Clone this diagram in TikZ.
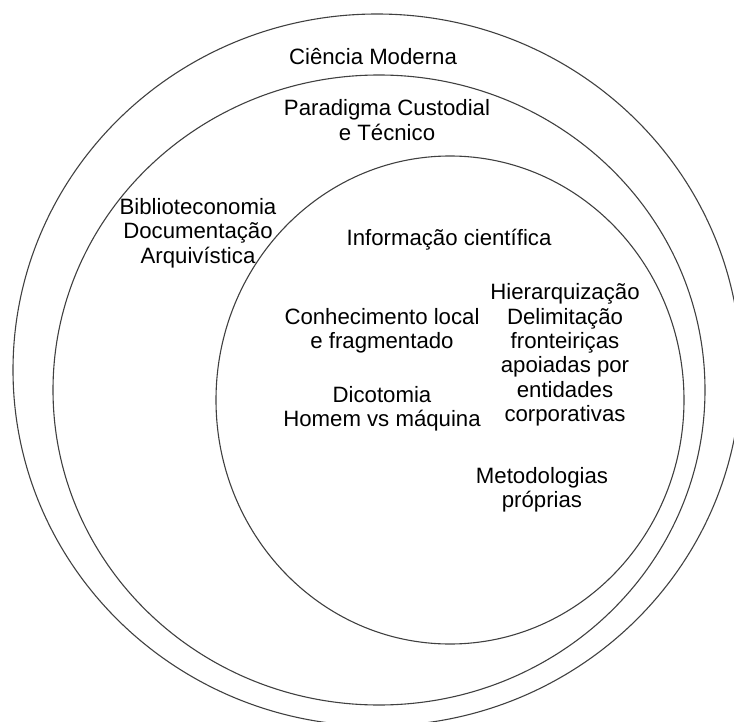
\documentclass[tikz,border=0pt]{standalone}
\usepackage{fontspec}
\setmainfont{Liberation Sans}
\usetikzlibrary{positioning}

\begin{document}
\begin{tikzpicture}[x=0.5pt, y=-0.5pt,
        every node/.style={align=center, inner sep=0pt,
          font=\fontsize{11.1}{12.2}\selectfont},
        ring/.style={draw=black!75, line width=0.55pt}]
        \useasboundingbox (0,0) rectangle (734,722);
        \clip (0,0) rectangle (734,722);

        % nested spheres
        \draw[ring] (377,370) ellipse [x radius=364, y radius=356];
        \draw[ring] (379,390) ellipse [x radius=326, y radius=315];
        \draw[ring] (450,400) ellipse [x radius=234, y radius=244];

        \node (ciencia) at (373,57) {Ciência Moderna};
        \node (paradigma) at (387,120) {Paradigma Custodial\\e Técnico};
        \node (areas) at (198,233) {Biblioteconomia\\Documentação\\Arquivística};
        \node (info) at (449,240) {Informação científica};
        \node (conhecimento) at (382,331) {Conhecimento local\\e fragmentado};
        \node (dicotomia) at (382,409) {Dicotomia\\Homem vs máquina};
        \node (hierarquia) at (565,355) {Hierarquização\\Delimitação\\fronteiriças\\apoiadas por\\entidades\\corporativas};
        \node (metodos) at (542,490) {Metodologias\\próprias};
      \end{tikzpicture}
\end{document}
